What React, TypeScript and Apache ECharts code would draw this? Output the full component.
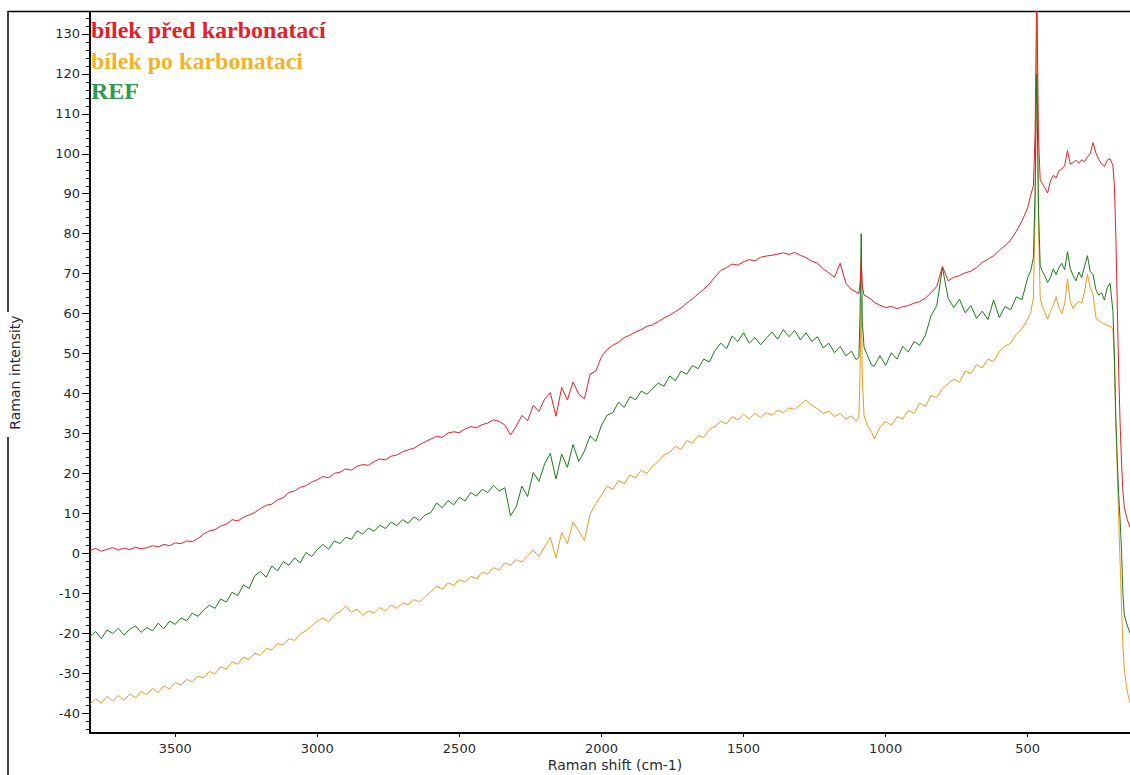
import React, { useEffect, useRef } from "react";
import * as echarts from "echarts";

// Raman shift (cm-1), shared by the three spectra
const shift = [
  3800, 3780, 3760, 3740, 3720, 3700, 3680, 3660, 3640, 3620,
  3600, 3580, 3560, 3540, 3520, 3500, 3480, 3460, 3440, 3420,
  3400, 3380, 3360, 3340, 3320, 3300, 3280, 3260, 3240, 3220,
  3200, 3180, 3160, 3140, 3120, 3100, 3080, 3060, 3040, 3020,
  3000, 2980, 2960, 2940, 2920, 2900, 2880, 2860, 2840, 2820,
  2800, 2780, 2760, 2740, 2720, 2700, 2680, 2660, 2640, 2620,
  2600, 2580, 2560, 2540, 2520, 2500, 2480, 2460, 2440, 2420,
  2400, 2380, 2360, 2340, 2320, 2300, 2280, 2260, 2240, 2220,
  2200, 2180, 2160, 2140, 2120, 2100, 2080, 2060, 2040, 2020,
  2000, 1980, 1960, 1940, 1920, 1900, 1880, 1860, 1840, 1820,
  1800, 1780, 1760, 1740, 1720, 1700, 1680, 1660, 1640, 1620,
  1600, 1580, 1560, 1540, 1520, 1500, 1480, 1460, 1440, 1420,
  1400, 1380, 1360, 1340, 1320, 1300, 1280, 1260, 1240, 1220,
  1200, 1180, 1160, 1140, 1120,
  1104, 1094, 1090, 1086, 1082, 1076, 1064, 1050, 1040,
  1020, 1000, 980, 960, 940, 920, 900, 880, 860, 840, 820, 800, 780, 760,
  740, 720, 700, 680, 660, 640, 620, 600, 580, 560, 540, 520, 500,
  490, 480, 474, 470, 468, 466, 462, 456, 448, 440, 430,
  420, 410, 400, 390, 380, 370, 360, 350, 340, 330, 320, 310, 300, 290,
  280, 270, 260, 250, 240, 230, 220, 210, 200,
  195, 190, 185, 180, 175, 170, 165, 160, 150, 140,
];

// bílek před karbonatací (red)
const bilekPred = [
  0.7, 1.2, 0.5, 1.0, 1.4, 0.8, 1.3, 0.9, 1.5, 1.1,
  1.4, 1.9, 1.6, 2.2, 1.9, 2.6, 2.4, 3.1, 2.9, 3.7,
  4.8, 5.6, 5.9, 6.8, 7.3, 8.4, 8.1, 9.0, 9.6, 10.2,
  11.2, 12.0, 12.3, 13.4, 13.9, 15.2, 15.6, 16.5, 16.9, 17.8,
  18.4, 19.2, 18.9, 20.0, 20.3, 21.1, 20.8, 21.8, 22.2, 22.0,
  23.0, 23.6, 23.4, 24.3, 24.6, 25.4, 25.9, 26.3, 27.2, 27.9,
  28.6, 29.3, 29.0, 30.1, 30.4, 30.2, 31.1, 31.7, 31.4, 32.2,
  32.6, 33.4, 33.0, 32.1, 29.6, 31.8, 34.5, 33.2, 37.0, 35.5,
  38.6, 40.2, 34.3, 41.5, 38.4, 42.9, 39.8, 38.7, 44.8, 45.6,
  49.2, 51.0, 52.1, 52.8, 54.0, 54.6, 55.4, 56.0, 56.8, 57.2,
  58.0, 58.9, 59.6, 60.5, 61.4, 62.6, 63.7, 64.9, 66.1, 67.5,
  69.2, 70.8, 71.5, 72.4, 72.1, 73.0, 73.5, 73.2, 74.1, 74.4,
  74.6, 74.9, 75.2, 74.8, 75.3, 74.6, 74.0, 73.1, 72.6, 71.2,
  70.2, 69.1, 72.6, 67.6, 66.0,
  65.4, 65.0, 67.5, 73.0, 67.0, 64.6, 64.2, 63.5, 62.8,
  62.1, 61.5, 61.8, 61.2, 61.7, 62.0, 62.6, 63.0, 63.9, 65.2, 66.8, 71.8, 68.2, 69.1,
  69.5, 70.2, 70.6, 71.5, 72.8, 73.6, 74.5, 75.8, 77.0, 78.4, 80.6, 83.2, 86.5,
  89.5, 92.0, 105, 130, 140, 128, 104, 93.5, 92.5, 91.5, 90.2,
  93.2, 94.6, 94.0, 95.8, 96.2, 97.0, 100.8, 97.4, 97.8, 98.4, 97.6, 98.5, 98.0, 99.2,
  100.0, 102.8, 100.2, 98.6, 97.5, 96.8, 98.4, 98.8, 97.0,
  92.0, 80.0, 63.0, 46.0, 33.0, 23.0, 15.5, 11.5, 8.5, 6.5,
];

// bílek po karbonataci (orange)
const bilekPo = [
  -37.8, -36.4, -37.6, -35.8, -37.0, -35.6, -36.8, -35.2, -36.2, -34.6,
  -35.4, -33.8, -34.9, -33.2, -34.0, -32.4, -33.0, -31.6, -32.2, -30.8,
  -31.2, -29.6, -30.2, -28.4, -29.0, -27.2, -27.8, -26.0, -26.6, -25.0,
  -25.6, -23.8, -24.2, -22.6, -23.0, -21.4, -21.8, -20.2, -19.4, -18.2,
  -17.0, -16.2, -17.2, -15.4, -14.6, -13.2, -14.8, -14.0, -15.6, -14.4,
  -15.0, -13.6, -14.4, -13.0, -13.8, -12.4, -12.9, -11.6, -12.2, -10.8,
  -9.6, -8.2, -9.0, -7.4, -8.0, -6.6, -7.2, -5.8, -6.4, -4.8,
  -5.2, -3.6, -4.2, -2.4, -3.0, -1.6, -2.2, -0.6, 0.8, -0.8,
  1.6, 4.0, -1.2, 5.2, 2.4, 7.8, 5.6, 3.2, 9.8, 12.4,
  14.6, 16.8, 16.0, 18.2, 17.4, 19.6, 18.8, 20.8, 20.0, 21.8,
  23.0, 24.6, 25.2, 26.8, 26.0, 28.2, 27.6, 29.4, 29.0, 31.0,
  31.8, 33.0, 32.4, 34.2, 33.4, 34.8, 33.6, 35.0, 34.0, 35.2,
  34.6, 35.8, 35.2, 36.4, 36.0, 37.2, 38.4, 37.0, 36.2, 35.0,
  35.6, 34.2, 35.0, 33.6, 34.4,
  33.0, 34.0, 45.0, 64.0, 44.0, 34.5, 32.0, 30.5, 28.6,
  31.5, 33.0, 32.0, 34.2, 33.6, 35.8, 35.0, 37.6, 36.8, 39.5, 39.0, 41.2, 42.5, 43.6,
  42.8, 45.6, 45.0, 47.2, 46.4, 48.6, 48.0, 50.5, 51.8, 52.6, 54.8, 56.2, 58.6,
  60.0, 64.0, 85.0, 118, 136, 112, 82.0, 64.0, 61.5, 60.5, 58.6,
  60.5, 62.0, 64.2, 61.5, 60.0, 62.5, 68.6, 63.0, 61.2, 62.4, 63.0, 62.6, 65.5, 69.8,
  66.5, 64.8, 59.0, 58.2, 57.8, 57.4, 57.0, 56.8, 56.2,
  48.0, 33.0, 21.0, 9.0, -2.0, -13.0, -23.0, -29.0, -34.5, -37.5,
];

// REF (green)
const refValues = [
  -20.8, -19.6, -21.4, -19.2, -20.1, -18.8, -20.5, -19.0, -18.2, -19.8,
  -18.6, -19.4, -17.5, -18.9, -17.0, -17.8, -16.2, -16.9, -15.0, -15.8,
  -14.2, -13.0, -13.8, -11.5, -12.2, -9.8, -10.6, -7.9, -8.8, -5.6,
  -4.6, -6.0, -3.2, -4.4, -2.1, -3.0, -1.2, -2.4, 0.2, -0.8,
  0.9, 2.2, 1.0, 3.1, 2.4, 4.0, 3.5, 5.6, 4.8, 6.3,
  5.5, 7.0, 6.2, 7.8, 6.9, 8.4, 7.5, 9.1, 8.2, 9.6,
  10.2, 12.6, 11.4, 13.2, 12.1, 14.0, 13.1, 15.2, 14.3, 16.0,
  15.2, 17.0, 15.6, 16.4, 9.4, 11.6, 16.8, 14.2, 20.2, 18.0,
  22.4, 25.0, 18.6, 24.8, 21.5, 27.2, 23.0, 25.6, 29.4, 28.0,
  32.0, 34.6, 35.2, 37.8, 36.5, 39.2, 38.4, 40.6, 39.8, 41.2,
  42.6, 41.8, 44.4, 43.2, 45.6, 44.8, 47.0, 46.2, 48.6, 47.9,
  50.8, 52.6, 51.2, 54.4, 53.0, 55.2, 52.6, 54.0, 52.2, 53.8,
  55.4, 53.6, 56.0, 54.2, 55.8, 53.4, 55.2, 53.0, 54.2, 51.4,
  52.6, 50.2, 51.8, 49.4, 50.6,
  48.5, 49.0, 60.0, 80.0, 58.0, 51.6, 49.5, 47.2, 46.8,
  49.5, 47.0, 50.2, 48.6, 51.8, 50.4, 53.0, 52.1, 54.6, 59.5, 62.0, 71.5, 63.8, 61.5,
  63.6, 60.2, 62.0, 58.8, 60.6, 58.5, 63.4, 59.0, 61.8, 60.9, 64.2, 63.5, 69.0,
  70.5, 74.0, 90.0, 112, 120, 108, 86.0, 72.0, 70.5, 69.5, 67.8,
  69.0, 71.2, 69.8, 71.5, 72.6, 71.0, 75.5, 71.2, 69.5, 68.2, 70.4, 69.0, 71.8, 74.5,
  70.5, 69.8, 66.0, 64.6, 65.2, 63.4, 66.5, 67.6, 60.5,
  50.0, 34.0, 24.0, 15.0, 8.5, 1.0, -10.0, -15.5, -18.0, -20.0,
];

const xTickValues = [3500, 3000, 2500, 2000, 1500, 1000, 500];
const yTickValues = [-40, -30, -20, -10, 0, 10, 20, 30, 40, 50, 60, 70, 80, 90, 100, 110, 120, 130];
const yMinorTickValues: number[] = [];
for (let v = -44; v <= 134; v += 2) if (v % 10 !== 0) yMinorTickValues.push(v);

const seriesNames = ["bílek před karbonatací", "bílek po karbonataci", "REF"];

const SANS = '"DejaVu Sans", Verdana, sans-serif';
const SERIF = '"Liberation Serif", "Times New Roman", serif';
const LABEL = "#2a2a33";

export default function App() {
  const ref = useRef<HTMLDivElement>(null);
  useEffect(() => {
    if (!ref.current) return;
    const chart = echarts.init(ref.current, undefined, { renderer: "svg" });
    const zip = (ys: number[]) => shift.map((x, i) => [x, ys[i]]);
    const legendText = (i: number, y: number, color: string) => ({
      type: "text",
      x: 91,
      y,
      style: {
        text: seriesNames[i],
        fill: color,
        fontSize: 24,
        fontWeight: "bold",
        fontFamily: SERIF,
        verticalAlign: "middle",
      },
    });
    chart.setOption({
      animation: false,
      backgroundColor: "#ffffff",
      grid: { left: 88, right: 0, top: 12, bottom: 42, containLabel: false },
      xAxis: {
        type: "value",
        min: 140,
        max: 3800,
        inverse: true,
        axisLine: { show: true, onZero: false, lineStyle: { color: "#000", width: 2 } },
        axisTick: { show: true, length: 4, customValues: xTickValues, lineStyle: { color: "#000", width: 1 } },
        axisLabel: {
          customValues: xTickValues,
          formatter: (v: number) => String(v),
          margin: 9,
          color: LABEL,
          fontSize: 13,
          fontFamily: SANS,
        },
        splitLine: { show: false },
      },
      yAxis: [
        {
          type: "value",
          min: -45,
          max: 135.5,
          name: "Raman intensity",
          nameLocation: "middle",
          nameGap: 68,
          nameRotate: 90,
          nameTextStyle: { color: LABEL, fontSize: 14, fontFamily: SANS },
          axisLine: { show: true, onZero: false, lineStyle: { color: "#000", width: 2 } },
          axisTick: { show: true, length: 8, customValues: yTickValues, lineStyle: { color: "#000", width: 1 } },
          axisLabel: {
            customValues: yTickValues,
            formatter: (v: number) => String(v),
            margin: 10,
            color: LABEL,
            fontSize: 13,
            fontFamily: SANS,
          },
          splitLine: { show: false },
        },
        {
          type: "value",
          min: -45,
          max: 135.5,
          position: "left",
          offset: 0,
          axisLine: { show: false, onZero: false },
          axisTick: { show: true, length: 4, customValues: yMinorTickValues, lineStyle: { color: "#000", width: 1 } },
          axisLabel: { show: false },
          splitLine: { show: false },
        },
      ],
      series: [
        {
          name: seriesNames[1],
          type: "line",
          data: zip(bilekPo),
          showSymbol: false,
          lineStyle: { color: "#f0981e", width: 1 },
          itemStyle: { color: "#f0981e" },
        },
        {
          name: seriesNames[2],
          type: "line",
          data: zip(refValues),
          showSymbol: false,
          lineStyle: { color: "#1b7a1b", width: 1 },
          itemStyle: { color: "#1b7a1b" },
        },
        {
          name: seriesNames[0],
          type: "line",
          data: zip(bilekPred),
          showSymbol: false,
          lineStyle: { color: "#ec1c24", width: 1 },
          itemStyle: { color: "#ec1c24" },
        },
      ],
      graphic: [
        { type: "line", shape: { x1: 8, y1: 11.5, x2: 1130, y2: 11.5 }, style: { stroke: "#000", lineWidth: 1.5 } },
        { type: "line", shape: { x1: 8, y1: 11, x2: 8, y2: 312 }, style: { stroke: "#000", lineWidth: 1.5 } },
        { type: "line", shape: { x1: 8, y1: 437, x2: 8, y2: 775 }, style: { stroke: "#000", lineWidth: 1.5 } },
        legendText(0, 29.6, "#e3202b"),
        legendText(1, 60.9, "#f2b32a"),
        legendText(2, 91.2, "#2f9a4f"),
        {
          type: "text",
          x: 615,
          y: 765,
          style: { text: "Raman shift (cm-1)", fill: LABEL, fontSize: 14, fontFamily: SANS, align: "center", verticalAlign: "middle" },
        },
      ],
    });
    return () => chart.dispose();
  }, []);
  return (
    <div
      ref={ref}
      style={{ position: "fixed", left: 0, top: 0, width: 1130, height: 775, background: "#fff" }}
    />
  );
}
